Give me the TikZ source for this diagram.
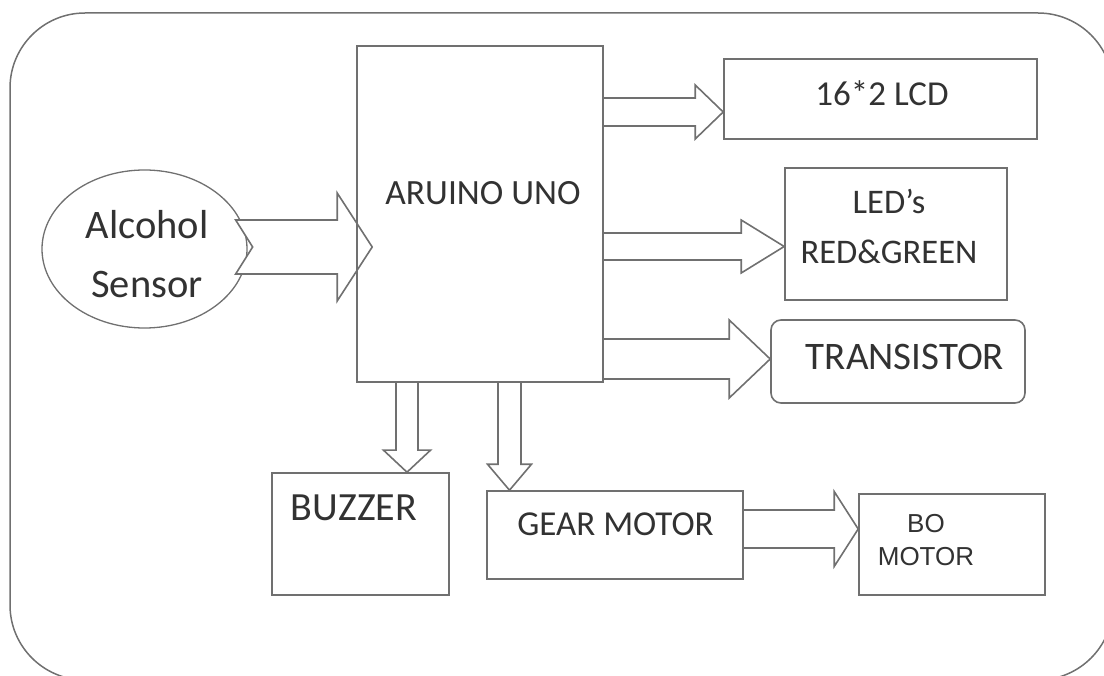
\documentclass[tikz,border=0pt]{standalone}
\usepackage{fontspec}
\setmainfont{Carlito}
\newfontfamily\arialfont{Liberation Sans}
\usepackage{tikz}
\usetikzlibrary{shapes,arrows,positioning,calc,backgrounds}
\definecolor{edgegray}{RGB}{112,112,112}
\definecolor{textgray}{RGB}{50,50,50}
\tikzstyle{block} = [rectangle, draw=edgegray, line width=1.6pt, fill=none, inner sep=0pt]
\tikzstyle{sensor} = [ellipse, draw=edgegray, line width=1.3pt, inner sep=0pt]
\tikzstyle{textonly} = [draw=none, fill=none, text=textgray, align=center, inner sep=0pt]
\tikzstyle{blk} = [draw=edgegray, line width=1.6pt, line join=miter]
% block arrows: from, tip, half shaft, half head, head length
\newcommand{\rblk}[5]{\draw[blk] ($(#1)+(0,#3)$) -- ($(#2)+(-#5,#3)$) -- ($(#2)+(-#5,#4)$) -- (#2) -- ($(#2)+(-#5,-#4)$) -- ($(#2)+(-#5,-#3)$) -- ($(#1)+(0,-#3)$);}
\newcommand{\dblk}[5]{\draw[blk] ($(#1)+(-#3,0)$) -- ($(#2)+(-#3,#5)$) -- ($(#2)+(-#4,#5)$) -- (#2) -- ($(#2)+(#4,#5)$) -- ($(#2)+(#3,#5)$) -- ($(#1)+(#3,0)$);}

\begin{document}
\begin{tikzpicture}[x=1pt, y=1pt]
\useasboundingbox (0,0) rectangle (1104,-676);

% frame ==================================
\draw[edgegray, line width=1.5pt, rounded corners=75pt] (10,-13) rectangle (1113,-680);

% nodes
\node[block, minimum width=246pt, minimum height=336pt] (ard) at (480,-214) {};
\node[textonly, font=\fontsize{35.5}{40}\selectfont] (ardtxt) at (483,-193) {ARUINO UNO};
\node[block, minimum width=313pt, minimum height=80pt] (lcd) at (880.5,-99) {};
\node[textonly, font=\fontsize{35}{40}\selectfont] (lcdtxt) at (882,-93) {16*2 LCD};
\node[block, minimum width=222pt, minimum height=132pt] (led) at (896,-234) {};
\node[textonly, font=\fontsize{34.5}{50}\selectfont] (ledtxt) at (889,-226) {LED’s\\RED\&GREEN};
\node[block, rounded corners=10pt, minimum width=254pt, minimum height=83pt] (tr) at (898,-361.5) {};
\node[textonly, font=\fontsize{39}{44}\selectfont] (trtxt) at (905,-356.5) {TRANSISTOR};
\node[block, minimum width=177pt, minimum height=122pt] (buz) at (360.5,-534) {};
\node[textonly, font=\fontsize{40}{46}\selectfont] (buztxt) at (354,-507.5) {BUZZER};
\node[block, minimum width=256pt, minimum height=88pt] (gear) at (615,-535) {};
\node[textonly, font=\fontsize{35}{42}\selectfont] (geartxt) at (615.5,-524) {GEAR MOTOR};
\node[block, minimum width=186pt, minimum height=101pt] (bo) at (952,-544.5) {};
\node[textonly, font=\arialfont\fontsize{26}{33}\selectfont] (botxt) at (926,-540) {BO\\MOTOR};

% arrow ends
\coordinate (ardin) at ($(ard.west |- 0,-247)+(16,0)$);
\coordinate (lcdin) at (lcd.west |- 0,-112);
\coordinate (lcdout) at (ard.east |- lcdin);
\coordinate (ledin) at (led.west |- 0,-246.5);
\coordinate (ledout) at (ard.east |- ledin);
\coordinate (trin) at (tr.west |- 0,-359);
\coordinate (trout) at (ard.east |- trin);
\coordinate (buzin) at (buz.north -| 407,0);
\coordinate (buzout) at (ard.south -| buzin);
\coordinate (gearin) at (gear.north -| 509.5,0);
\coordinate (gearout) at (ard.south -| gearin);
\coordinate (boin) at (bo.west |- 0,-529);
\coordinate (boout) at (gear.east |- boin);

% sensor and its arrow
\begin{scope}[on background layer]
\node[sensor, minimum width=205pt, minimum height=158pt] (alc) at (144.5,-249) {};
\coordinate (alcout) at (alc.east |- ardin);
\draw[blk, fill=white] ($(alcout)+(5,0)$) -- ($(alcout)+(-12,27)$) -- ($(ardin)+(-35,27)$) -- ($(ardin)+(-35,54)$) -- (ardin)
  -- ($(ardin)+(-35,-54)$) -- ($(ardin)+(-35,-27)$) -- ($(alcout)+(-12,-27)$) -- cycle;
\end{scope}
\node[textonly, font=\fontsize{40.5}{59}\selectfont] (alctxt) at (147,-254.5) {Alcohol\\Sensor};

% edges
\rblk{lcdout}{lcdin}{14}{27}{28}
\rblk{ledout}{ledin}{13.5}{26.5}{43}
\rblk{trout}{trin}{20}{39}{41}
\dblk{buzout}{buzin}{11}{23.5}{22}
\dblk{gearout}{gearin}{11.5}{22}{26}
\rblk{boout}{boin}{19}{37.5}{24}

\end{tikzpicture}
\end{document}
